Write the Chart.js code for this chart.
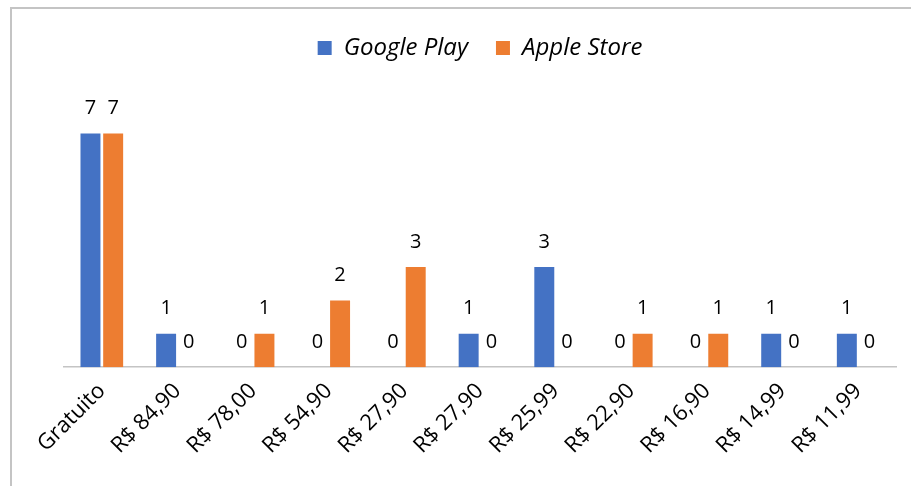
<!DOCTYPE html>
<html>
<head>
<meta charset="utf-8">
<script src="https://cdn.jsdelivr.net/npm/chart.js@4"></script>
<style>
    html, body { margin: 0; padding: 0; background: #fff; }
    #cadre {
        position: absolute; left: 10px; top: 7px;
        width: 920px; height: 500px;
        border: 2px solid #c4c4c4;
        box-sizing: border-box;
    }
    #zone { position: absolute; left: 0; top: 0; width: 911px; height: 486px; }
</style>
</head>
<body>
<div id="cadre"></div>
<div id="zone"><canvas id="graphique"></canvas></div>
<script>
// ---------------------------------------------------------------------------
// DONNÉES
// ---------------------------------------------------------------------------

const CATEGORIES = ['Gratuito', 'R$ 84,90', 'R$ 78,00', 'R$ 54,90', 'R$ 27,90', 'R$ 27,90',
                    'R$ 25,99', 'R$ 22,90', 'R$ 16,90', 'R$ 14,99', 'R$ 11,99'];
const GOOGLE_PLAY = [7, 1, 0, 0, 0, 1, 3, 0, 0, 1, 1];
const APPLE_STORE = [7, 0, 1, 2, 3, 0, 0, 1, 1, 0, 0];

const BLEU   = '#4472C4';
const ORANGE = '#ED7D31';
const POLICE = "'Open Sans', 'Liberation Sans', sans-serif";

// ---------------------------------------------------------------------------
// PLUGINS
// ---------------------------------------------------------------------------

// Étiquettes de valeurs au-dessus des barres
const etiquettes = {
    id: 'etiquettes',
    afterDatasetsDraw(chart) {
        const ctx = chart.ctx;
        ctx.save();
        ctx.font = `20px ${POLICE}`;
        ctx.fillStyle = '#000';
        ctx.textAlign = 'center';
        ctx.textBaseline = 'middle';
        chart.data.datasets.forEach((ds, i) => {
            chart.getDatasetMeta(i).data.forEach((barre, j) => {
                ctx.fillText(String(ds.data[j]), barre.x, barre.y - 25);
            });
        });
        ctx.restore();
    },
};

// Espace supplémentaire sous la légende
const espaceLegende = {
    id: 'espaceLegende',
    beforeInit(chart) {
        const fitOrig = chart.legend.fit;
        chart.legend.fit = function () {
            fitOrig.bind(chart.legend)();
            this.height += 30;
        };
    },
};

// ---------------------------------------------------------------------------
// GRAPHIQUE
// ---------------------------------------------------------------------------

new Chart(document.getElementById('graphique'), {
    type: 'bar',
    data: {
        labels: CATEGORIES,
        datasets: [
            { label: 'Google Play', data: GOOGLE_PLAY, backgroundColor: BLEU,
              categoryPercentage: 0.6, barPercentage: 0.88 },
            { label: 'Apple Store', data: APPLE_STORE, backgroundColor: ORANGE,
              categoryPercentage: 0.6, barPercentage: 0.88 },
        ],
    },
    options: {
        responsive: true,
        maintainAspectRatio: false,
        animation: false,
        layout: { padding: { left: 64, right: 15, top: 8, bottom: 24 } },
        plugins: {
            legend: {
                position: 'top',
                labels: {
                    boxWidth: 14, boxHeight: 14, padding: 28,
                    color: '#000',
                    font: { family: POLICE, size: 24, style: 'italic' },
                },
            },
            tooltip: { enabled: false },
        },
        scales: {
            x: {
                grid:   { display: false },
                border: { color: '#c4c4c4', width: 1.5 },
                ticks:  {
                    color: '#000', autoSkip: false,
                    minRotation: 45, maxRotation: 45,
                    font: { family: POLICE, size: 22 },
                },
            },
            y: { display: false, min: 0, max: 8 },
        },
    },
    plugins: [etiquettes, espaceLegende],
});
</script>
</body>
</html>
